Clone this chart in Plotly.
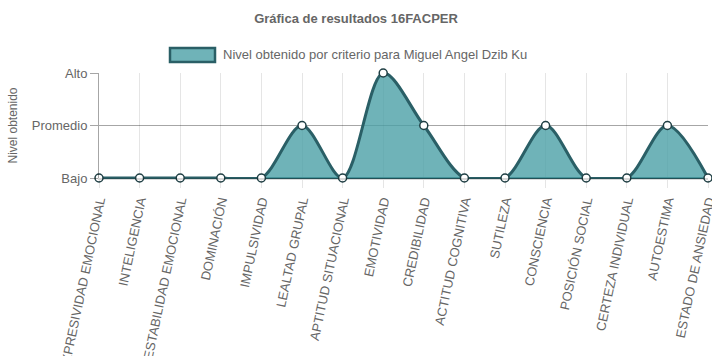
import plotly.graph_objects as go

categories = ["EXPRESIVIDAD EMOCIONAL", "INTELIGENCIA", "ESTABILIDAD EMOCIONAL", "DOMINACIÓN",
              "IMPULSIVIDAD", "LEALTAD GRUPAL", "APTITUD SITUACIONAL", "EMOTIVIDAD",
              "CREDIBILIDAD", "ACTITUD COGNITIVA", "SUTILEZA", "CONSCIENCIA",
              "POSICIÓN SOCIAL", "CERTEZA INDIVIDUAL", "AUTOESTIMA", "ESTADO DE ANSIEDAD"]
values = [0, 0, 0, 0, 0, 1, 0, 2, 1, 0, 0, 1, 0, 0, 1, 0]
level_vals = [0, 1, 2]
level_labels = ["Bajo", "Promedio", "Alto"]
series_name = "Nivel obtenido por criterio para Miguel Angel Dzib Ku"

FONT = "Liberation Sans, Arial, sans-serif"
GRAY = "#666666"
LINE = "#2a5f66"
FILL = "rgba(75,160,166,0.8)"

W, H = 712, 356
L, R, T, B = 99, 4, 73, 178
PW, PH = W - L - R, H - T - B


def px_x(sx):  # screen x -> paper x
    return (sx - L) / PW


def px_y(sy):  # screen y -> paper y
    return (H - B - sy) / PH


fig = go.Figure()
# area + line, clipped to the plot area
fig.add_trace(go.Scatter(
    x=categories, y=values,
    mode="lines",
    name=series_name, showlegend=False,
    line=dict(color=LINE, width=3, shape="spline", smoothing=0.9),
    fill="tozeroy", fillcolor=FILL,
    cliponaxis=True, hoverinfo="skip",
))
# points, not clipped
fig.add_trace(go.Scatter(
    x=categories, y=values,
    mode="markers",
    name=series_name, showlegend=False,
    marker=dict(size=8, color="white", line=dict(color="#1f3f44", width=1.5)),
    cliponaxis=False,
))

fig.update_layout(
    width=W, height=H,
    margin=dict(l=L, r=R, t=T, b=B, pad=0),
    paper_bgcolor="white", plot_bgcolor="white",
    font=dict(family=FONT, size=13, color=GRAY),
    title=dict(text="<b>Gráfica de resultados 16FACPER</b>", x=356 / W, xanchor="center",
               y=1 - 18 / H, yref="container", yanchor="middle", font=dict(size=13, color=GRAY)),
    showlegend=False,
    xaxis=dict(
        type="category", range=[0, len(categories) - 1], automargin=False,
        showgrid=True, gridcolor="rgba(0,0,0,0.1)", gridwidth=1,
        ticks="outside", ticklen=8, tickcolor="rgba(0,0,0,0.1)",
        tickangle=-78, tickfont=dict(size=13, color=GRAY),
        showline=True, linecolor="rgba(0,0,0,0.15)", linewidth=2, zeroline=False,
    ),
    yaxis=dict(
        range=[0, 2], tickvals=level_vals, ticktext=level_labels, automargin=False,
        showgrid=True, gridcolor="rgba(0,0,0,0.35)", gridwidth=1,
        ticks="outside", ticklen=8, tickcolor="rgba(0,0,0,0.35)",
        showline=True, linecolor="rgba(0,0,0,0.35)",
        zeroline=True, zerolinecolor=LINE, zerolinewidth=1.5,
        tickfont=dict(size=13, color=GRAY),
    ),
    shapes=[dict(type="rect", xref="paper", yref="paper",
                 x0=px_x(170), x1=px_x(215), y0=px_y(62), y1=px_y(48),
                 fillcolor=FILL, line=dict(color=LINE, width=2.5))],
    annotations=[
        dict(text="Nivel obtenido", xref="paper", yref="paper",
             x=px_x(12), y=0.5, xanchor="center", yanchor="middle",
             textangle=-90, showarrow=False, font=dict(size=12, color=GRAY)),
        dict(text=series_name, xref="paper", yref="paper",
             x=px_x(221), y=px_y(55), xanchor="left", yanchor="middle",
             showarrow=False, font=dict(size=13, color=GRAY)),
    ],
)

fig.write_html("out.html", config={"displayModeBar": False},
               post_script="document.body.style.margin='0';document.body.style.overflow='hidden';")
